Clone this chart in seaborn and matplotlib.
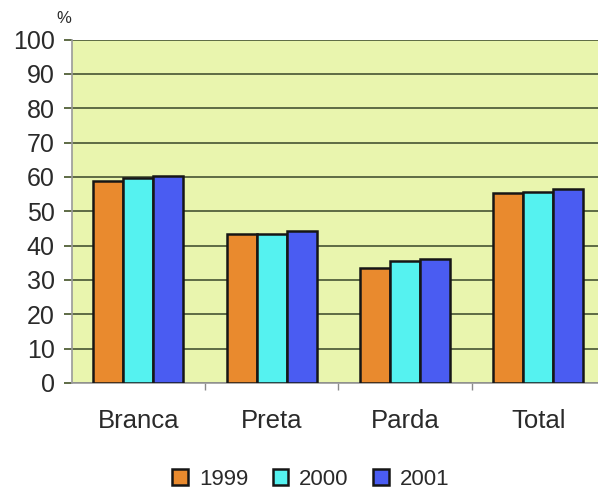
import matplotlib
matplotlib.use("Agg")
import matplotlib.pyplot as plt
import seaborn as sns
import pandas as pd

# Share of the population (%) by colour/race group, 1999-2001
categories = ["Branca", "Preta", "Parda", "Total"]
years = ["1999", "2000", "2001"]
values_1999 = [58.9, 43.4, 33.4, 55.2]
values_2000 = [59.6, 43.4, 35.5, 55.7]
values_2001 = [60.3, 44.3, 36.1, 56.4]
y_ticks = [0, 10, 20, 30, 40, 50, 60, 70, 80, 90, 100]

colors = ["#E98A2E", "#55F2F0", "#4A5CF2"]

rows = []
for year, vals in zip(years, [values_1999, values_2000, values_2001]):
    for cat, v in zip(categories, vals):
        rows.append({"categoria": cat, "ano": year, "valor": v})
df = pd.DataFrame(rows)

sns.set_theme(style="white")
plt.rcParams["font.family"] = ["Liberation Sans", "DejaVu Sans"]

fig = plt.figure(figsize=(5.98, 4.94), dpi=100)
ax = fig.add_axes([0.1196, 0.2247, 0.892, 0.6953])
ax.set_facecolor("#E9F5AE")

sns.barplot(data=df, x="categoria", y="valor", hue="ano", order=categories,
            hue_order=years, palette=colors, width=0.675, gap=0,
            edgecolor="#161616", linewidth=1.8, saturation=1, ax=ax, zorder=3)

ax.set_xlim(-0.5, 3.5)
ax.set_ylim(0, 100)
ax.set_yticks(y_ticks)
ax.set_yticklabels([str(t) for t in y_ticks], fontsize=18, color="#2a2a2a")
ax.grid(axis="y", color="#5E6B45", linewidth=1.4, zorder=0)
ax.set_axisbelow(True)
ax.tick_params(axis="y", which="major", length=6, width=1.4, color="#5E6B45",
               direction="out", pad=6, left=True)
ax.tick_params(axis="x", which="major", length=0, labelsize=18.5,
               labelcolor="#2a2a2a", pad=19)
ax.set_xticks([0.5, 1.5, 2.5], minor=True)
ax.tick_params(axis="x", which="minor", length=5, width=1, color="#8a8a8a",
               direction="out", bottom=True)
ax.set_xlabel("")
ax.set_ylabel("")

for side in ["top", "right"]:
    ax.spines[side].set_visible(False)
ax.spines["left"].set_color("#9a9a9a")
ax.spines["bottom"].set_color("#9a9a9a")
ax.spines["left"].set_linewidth(1.2)
ax.spines["bottom"].set_linewidth(1.2)

fig.text(0.106, 0.962, "%", fontsize=12, color="#2a2a2a", ha="center", va="center")

handles, labels = ax.get_legend_handles_labels()
ax.legend_.remove()
leg = fig.legend(handles, labels, loc="center", bbox_to_anchor=(0.52, 0.03),
                 ncol=3, frameon=False, fontsize=16, handlelength=0.7,
                 handleheight=0.7, handletextpad=0.5, columnspacing=1.1)
for t in leg.get_texts():
    t.set_color("#2a2a2a")

fig.savefig("out.png", dpi=100, facecolor="white")
